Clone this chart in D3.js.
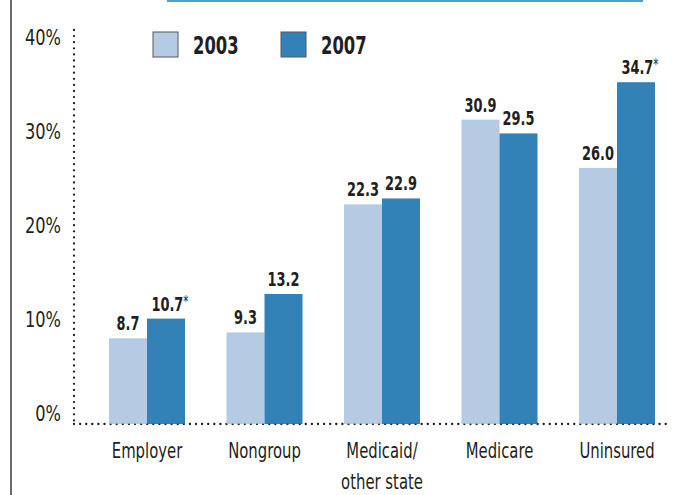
<!DOCTYPE html>
<html>
<head>
<meta charset="utf-8">
<script src="https://cdn.jsdelivr.net/npm/d3@7"></script>
<style>
  body { margin: 0; background: #fff; }
  text { font-family: "DejaVu Sans Condensed", "DejaVu Sans", sans-serif; font-stretch: condensed; fill: #231f20; }
</style>
</head>
<body>
<div id="root"></div>
<script>
// data
const categories = [["Employer"], ["Nongroup"], ["Medicaid/", "other state"], ["Medicare"], ["Uninsured"]];
const years = ["2003", "2007"];
const values2003 = [8.7, 9.3, 22.3, 30.9, 26.0];
const values2007 = [10.7, 13.2, 22.9, 29.5, 34.7];
const starred2007 = [true, false, false, false, true];
const yTicks = [0, 10, 20, 30, 40];

const w = 694;
const h = 495;
const colors = ["#b5cae3", "#3282b8"];

const svg = d3.select("#root")
    .append("svg")
    .attr("width", w)
    .attr("height", h);

// frame bits: grey line on the left, blue rule on top
svg.append("line")
    .attr("x1", 11).attr("x2", 11)
    .attr("y1", 0).attr("y2", h)
    .attr("stroke", "#6d6e71")
    .attr("stroke-width", 2);
svg.append("line")
    .attr("x1", 167).attr("x2", 643)
    .attr("y1", 1).attr("y2", 1)
    .attr("stroke", "#4a9fd3")
    .attr("stroke-width", 2);

const y = d3.scaleLinear().domain([0, 40]).range([424, 30]);
// the printed tick labels sit slightly off the bar scale
const labelY = d3.scaleLinear().domain([0, 40]).range([413, 37]);

const x = d3.scaleBand()
    .domain(categories.map(c => c.join(" ")))
    .range([109, 655])
    .paddingInner(0.353)
    .paddingOuter(0);

const xs = d3.scaleBand()
    .domain(years)
    .range([0, x.bandwidth()]);

const axisLeft = 74;
const axisRight = 668;

const dotted = (sel, op) => sel
    .attr("stroke", "#231f20")
    .attr("stroke-width", 2.3)
    .attr("stroke-linecap", "round")
    .attr("stroke-dasharray", "0 6.1")
    .attr("opacity", op);

// narrow glyphs like the condensed face of the original
const squeeze = (sel, sx, ax) => sel
    .attr("transform", `translate(${ax},0) scale(${sx},1) translate(${-ax},0)`);

// vertical dotted axis
svg.append("line")
    .attr("x1", axisLeft).attr("x2", axisLeft)
    .attr("y1", y(40)).attr("y2", y(0))
    .call(dotted, 1);

svg.selectAll("text.tick")
    .data(yTicks)
    .enter()
    .append("text")
    .attr("class", "tick")
    .attr("x", 61)
    .attr("y", d => labelY(d))
    .attr("dy", "0.36em")
    .attr("text-anchor", "end")
    .attr("font-size", 22)
    .call(squeeze, 0.82, 61)
    .text(d => d + "%");

// baseline under the bars
const baseline = () => svg.append("line")
    .attr("x1", axisLeft).attr("x2", axisRight)
    .attr("y1", y(0)).attr("y2", y(0));
baseline().call(dotted, 1);

const groups = svg.selectAll("g.group")
    .data(categories.map((c, i) => ({ key: c.join(" "), lines: c, vals: [values2003[i], values2007[i]], star: [false, starred2007[i]] })))
    .enter()
    .append("g")
    .attr("class", "group")
    .attr("transform", d => `translate(${x(d.key)},0)`);

groups.selectAll("rect")
    .data(d => d.vals.map((v, j) => ({ year: years[j], v: v, star: d.star[j], j: j })))
    .enter()
    .append("rect")
    .attr("x", d => xs(d.year))
    .attr("width", xs.bandwidth())
    .attr("y", d => y(d.v))
    .attr("height", d => y(0) - y(d.v))
    .attr("fill", d => colors[d.j]);

const valueLabels = groups.selectAll("text.val")
    .data(d => d.vals.map((v, j) => ({ year: years[j], v: v, star: d.star[j] })))
    .enter()
    .append("text")
    .attr("class", "val")
    .attr("x", d => xs(d.year) + xs.bandwidth() / 2 + (d.star ? 4 : 0))
    .attr("y", d => y(d.v) - 8)
    .attr("text-anchor", "middle")
    .attr("font-size", 20)
    .attr("font-weight", "bold")
    .each(function (d) {
        d3.select(this).call(squeeze, 0.72, xs(d.year) + xs.bandwidth() / 2 + (d.star ? 4 : 0));
    });
valueLabels.append("tspan").text(d => d.v.toFixed(1));
valueLabels.filter(d => d.star)
    .append("tspan")
    .attr("font-size", 16)
    .attr("font-weight", "normal")
    .attr("dy", -4)
    .text("*");

// faint dots showing through the bars
baseline().call(dotted, 0.3);

// category labels
groups.append("text")
    .attr("y", 458)
    .attr("text-anchor", "middle")
    .attr("font-size", 22)
    .call(squeeze, 0.75, x.bandwidth() / 2)
    .selectAll("tspan")
    .data(d => d.lines)
    .enter()
    .append("tspan")
    .attr("x", x.bandwidth() / 2)
    .attr("dy", (d, i) => i === 0 ? 0 : 31)
    .text(d => d);

// legend
const legend = svg.append("g")
    .selectAll("g")
    .data(years)
    .enter()
    .append("g")
    .attr("transform", (d, i) => `translate(${153 + i * 128},32)`);
legend.append("rect")
    .attr("width", 25)
    .attr("height", 25)
    .attr("fill", (d, i) => colors[i])
    .attr("stroke", "#58595b")
    .attr("stroke-width", 1);
legend.append("text")
    .attr("x", 40)
    .attr("y", 13)
    .attr("dy", "0.36em")
    .attr("font-size", 24)
    .attr("font-weight", "bold")
    .call(squeeze, 0.76, 40)
    .text(d => d);
</script>
</body>
</html>
